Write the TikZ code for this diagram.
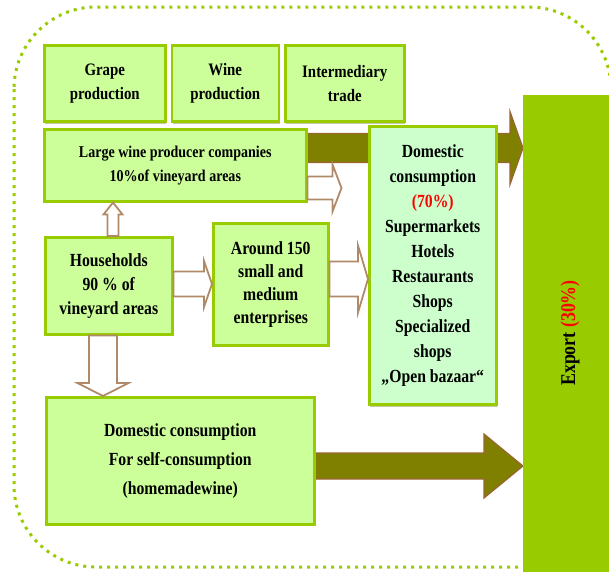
\documentclass[tikz,border=0pt]{standalone}
\usepackage{fontspec}
\setmainfont{Liberation Serif}[FakeStretch=0.85]
\usetikzlibrary{positioning, calc, backgrounds, shadows}
\definecolor{leafgreen}{HTML}{99CC00}
\definecolor{boxfill}{HTML}{CCFF99}
\definecolor{mintfill}{HTML}{CCFFCC}
\definecolor{olivearrow}{HTML}{808000}
\definecolor{brownedge}{HTML}{996633}
\definecolor{tanedge}{HTML}{B08A68}
\definecolor{shade}{HTML}{C4C8A4}
\tikzset{
  cell/.style={draw=leafgreen, line width=2.5pt, fill=boxfill, align=center,
               anchor=north west, inner sep=2pt,
               font=\bfseries\fontsize{17.5}{24}\selectfont},
  shcell/.style={cell, drop shadow={shadow xshift=1pt, shadow yshift=-3pt,
               fill=shade, opacity=1}},
  bar/.style={fill=leafgreen, anchor=north west, inner sep=0pt},
  darkflow/.style={fill=olivearrow, draw=brownedge, line width=1.2pt, line join=miter},
  hollowflow/.style={fill=white, draw=tanedge, line width=1.8pt, line join=miter},
}
% block arrow: style, from, to, shaft half width, head half width, head length
\newcommand{\fatarrow}[6]{%
  \coordinate (fa-h) at ($#3!#6!#2$);
  \path[#1] ($#2!#4!90:#3$) -- ($(fa-h)!#4!90:#3$) -- ($(fa-h)!#5!90:#3$) -- #3
    -- ($(fa-h)!#5!-90:#3$) -- ($(fa-h)!#4!-90:#3$) -- ($#2!#4!-90:#3$) -- cycle;
}

\begin{document}
\begin{tikzpicture}[x=1pt, y=-1pt]
  \useasboundingbox (0,0) rectangle (609,571);

  % top row
  \node (grape) [shcell, minimum width=121pt, minimum height=76pt] at (43,44) {Grape\\production};
  \node (wine) [shcell, minimum width=107pt, minimum height=76pt, right=4pt of grape.north east, anchor=north west] {Wine\\production};
  \node (trade) [shcell, minimum width=119pt, minimum height=76pt, right=4pt of wine.north east, anchor=north west] {Intermediary\\trade};

  \node (large) [cell, minimum width=262pt, minimum height=72pt,
                 font=\bfseries\fontsize{16.5}{24}\selectfont] at (43,128)
        {Large wine producer companies\\10\%of vineyard areas};
  \node (house) [cell, minimum width=127pt, minimum height=97pt,
                 font=\bfseries\fontsize{18.5}{24}\selectfont] at (44,236)
        {Households\\90 \% of\\vineyard areas};
  \node (sme) [cell, minimum width=115pt, minimum height=122pt,
               font=\bfseries\fontsize{18.5}{23}\selectfont] at (212,222)
        {Around 150\\small and\\medium\\enterprises};
  \node (self) [cell, minimum width=268pt, minimum height=127pt,
                font=\bfseries\fontsize{18.5}{29}\selectfont] at (45,396)
        {Domestic consumption\\For self-consumption\\(homemadewine)};

  \node (export) [bar, minimum width=94pt, minimum height=480pt] at (523,95) {};
  \node (exportlabel) [rotate=90, font=\bfseries\fontsize{21}{22}\selectfont]
        at ($(export.north west)+(47,238)$) {Export \textcolor{red}{(30\%)}};

  \begin{scope}[on background layer]
    \draw[leafgreen, line width=3pt, dash pattern=on 3pt off 5pt, rounded corners=82pt]
      (14,7) rectangle (611,567);
    \coordinate (topA) at ($(large.north east)+(0,20)$);
    \coordinate (topB) at (export.west |- topA);
    \fatarrow{darkflow}{(topA)}{(topB)}{14.5pt}{36.5pt}{13pt}
    \coordinate (lowA) at ($(self.north east)+(0,70)$);
    \coordinate (lowB) at (export.west |- lowA);
    \fatarrow{darkflow}{(lowA)}{(lowB)}{13pt}{32pt}{39pt}
  \end{scope}

  \node (dom) [shcell, fill=mintfill, minimum width=127pt, minimum height=278pt,
               font=\bfseries\fontsize{18.5}{25}\selectfont] at (368,125)
        {Domestic\\consumption\\\textcolor{red}{(70\%)}\\Supermarkets\\Hotels\\Restaurants\\Shops\\Specialized\\shops\\„Open bazaar“};

  % hollow arrows
  \coordinate (wA) at ($(large.north east)+(0,60)$);
  \coordinate (wB) at ($(wA)+(34,0)$);
  \fatarrow{hollowflow}{(wA)}{(wB)}{11.5pt}{23.5pt}{9pt}
  \coordinate (upA) at ($(house.north west)+(69,0)$);
  \coordinate (upB) at (upA |- large.south);
  \fatarrow{hollowflow}{(upA)}{(upB)}{5.5pt}{9.5pt}{12pt}
  \coordinate (hsA) at ($(house.north east)+(0,48)$);
  \coordinate (hsB) at (sme.west |- hsA);
  \fatarrow{hollowflow}{(hsA)}{(hsB)}{12.5pt}{23pt}{8pt}
  \coordinate (sdA) at ($(sme.north east)+(0,57)$);
  \coordinate (sdB) at (dom.west |- sdA);
  \fatarrow{hollowflow}{(sdA)}{(sdB)}{17.5pt}{33.5pt}{10pt}
  \coordinate (dnA) at ($(house.south west)+(59,0)$);
  \coordinate (dnB) at (dnA |- self.north);
  \fatarrow{hollowflow}{(dnA)}{(dnB)}{14pt}{25.5pt}{13pt}
\end{tikzpicture}
\end{document}
